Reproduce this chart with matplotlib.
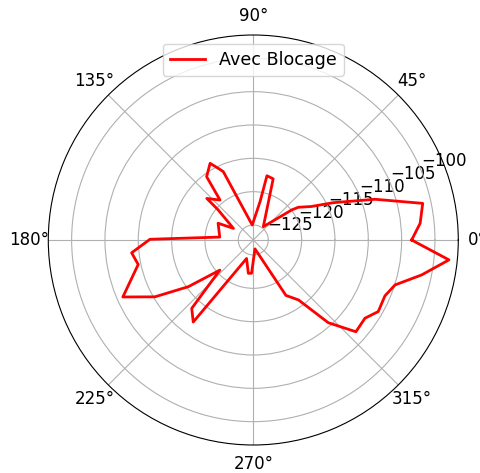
import numpy as np
import matplotlib
matplotlib.use("Agg")
import matplotlib.pyplot as plt

# Angles (deg) and received level (dB)
angles_deg = [0, 5.7, 12.2, 18.5, 25, 30, 36, 38, 53, 72, 78, 80, 94,
              113.7, 116, 119.4, 126.4, 129.8, 138.2, 139.4, 149.7, 154.5, 175,
              179.6, 186, 192, 203.6, 210, 215.7, 222, 228, 233.8, 250, 261.5,
              267, 280.7, 300.5, 307, 312.2, 318.2, 325, 330.2, 337, 342.4,
              348.3, 354.2, 360]
levels_db = [-103.5, -102.1, -101.25, -108.0, -114.0, -117.2, -118.9, -119.9,
             -124.75, -117.6, -117.4, -121.4, -125.0,
             -116.05, -115.3, -114.05, -115.45, -119.45, -117.9, -120.3, -123.8,
             -121.4, -122.2,
             -111.75, -108.9, -109.6, -105.9, -110.2, -115.25, -120.5, -113.45,
             -112.0, -124.3, -122.2,
             -122.25, -125.9, -117.6, -116.0, -110.5, -106.6, -106.8, -105.65,
             -105.8, -104.95,
             -101.45, -97.75, -103.5]
r_ticks = [-125, -120, -115, -110, -105, -100]

fig = plt.figure(figsize=(4.81, 4.73), dpi=100)
ax = fig.add_axes([0.1004, 0.0592, 0.8524, 0.8668], projection="polar")

ax.plot(np.deg2rad(angles_deg), levels_db, color="red", linewidth=2, label="Avec Blocage")

ax.set_ylim(-127.25, -96.5)
ax.set_yticks(r_ticks)
ax.tick_params(labelsize=12)
ax.grid(True)
ax.legend(loc="upper center", fontsize=12.6)

fig.savefig("out.png", dpi=100)
